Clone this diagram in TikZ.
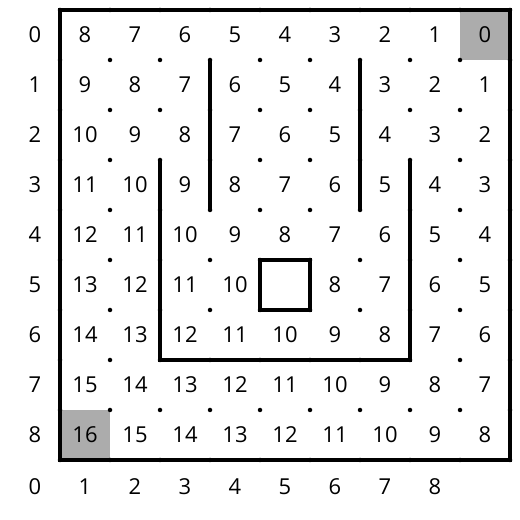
\documentclass[tikz,border=0pt]{standalone}
\usepackage{fontspec}
\setmainfont{Open Sans}
\usepackage{tikz}

\tikzset{
  dist/.style={font=\fontsize{12.5}{15}\selectfont},
  wall/.style={line width=2.7pt},
}

\begin{document}
\begin{tikzpicture}
			\useasboundingbox (0,0) rectangle (10.4,10.4);
			% goal and start
			\fill[gray!65] (9.2,9.2) rectangle (10.2,10.2);
			\fill[gray!65] (1.2,1.2) rectangle (2.2,2.2);
			% grid points
			\foreach \x in {0,...,9}
				\foreach \y in {0,...,9}
					\fill (1.2+\x,1.2+\y) circle (0.045);
			% distances
			\foreach \r/\vals in {0/{8,7,6,5,4,3,2,1,0},
					1/{9,8,7,6,5,4,3,2,1},
					2/{10,9,8,7,6,5,4,3,2},
					3/{11,10,9,8,7,6,5,4,3},
					4/{12,11,10,9,8,7,6,5,4},
					5/{13,12,11,10,,8,7,6,5},
					6/{14,13,12,11,10,9,8,7,6},
					7/{15,14,13,12,11,10,9,8,7},
					8/{16,15,14,13,12,11,10,9,8}}
				\foreach \v [count=\c from 0] in \vals
					\node[dist] (d\r-\c) at (1.7+\c,9.7-\r) {\v};
			% row and column numbers
			\foreach \k in {0,...,8} {
				\node[dist] (row\k) at (0.7,9.7-\k) {\k};
				\node[dist] (col\k) at (0.7+\k,0.66) {\k};
			}
			% walls
			\draw[wall] (1.2,1.2) rectangle (10.2,10.2);
			\draw[wall] (4.2,9.2) -- (4.2,6.2);
			\draw[wall] (7.2,9.2) -- (7.2,6.2);
			\draw[wall] (3.2,7.2) -- (3.2,3.2) -- (8.2,3.2) -- (8.2,7.2);
			\draw[wall] (5.2,4.2) rectangle (6.2,5.2);
		\end{tikzpicture}
\end{document}
